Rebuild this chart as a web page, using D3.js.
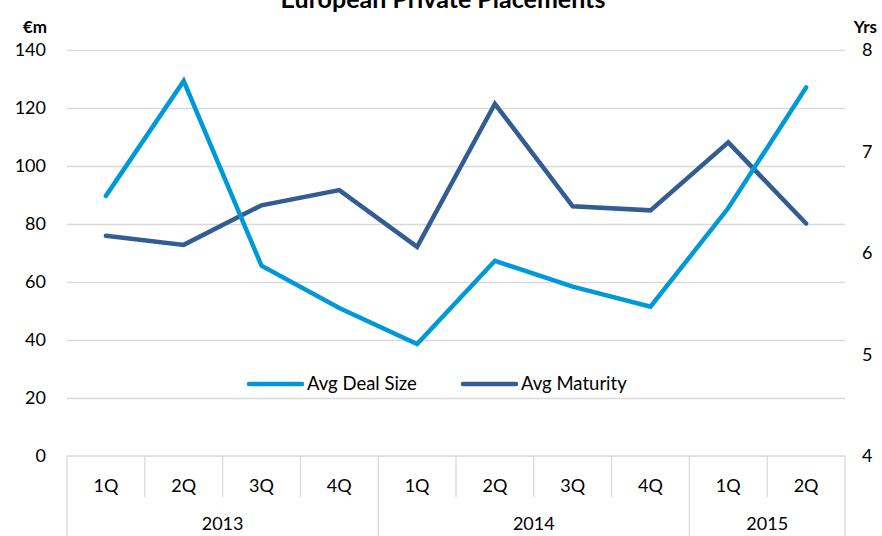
<!DOCTYPE html>
<html>
<head>
<meta charset="utf-8">
<script src="https://cdn.jsdelivr.net/npm/d3@7"></script>
<style>
  body { margin: 0; background: #fff; }
  svg { display: block; font-family: Lato, "Open Sans", sans-serif; }
</style>
</head>
<body>
<svg id="mainSvg" width="882" height="536"></svg>
<script>
// chart data
const quarters = ["1Q", "2Q", "3Q", "4Q", "1Q", "2Q", "3Q", "4Q", "1Q", "2Q"];
const years = ["2013", "2014", "2015"];
const yearSpans = [4, 4, 2];
const dealSize = [89.7, 129.3, 65.6, 51.0, 38.6, 67.3, 58.4, 51.5, 85.5, 127.1];
const maturity = [6.17, 6.08, 6.47, 6.62, 6.06, 7.47, 6.46, 6.42, 7.09, 6.29];
const leftTicks = [0, 20, 40, 60, 80, 100, 120, 140];
const rightTicks = [4, 5, 6, 7, 8];

const dealColor = '#0099d8';
const matColor = '#315d93';
const gridColor = '#d9d9d9';

let svg = d3.select('#mainSvg');
let plotL = 67, plotR = 845, plotT = 50, plotB = 456;

let x = d3.scaleBand().domain(d3.range(quarters.length)).range([plotL, plotR]).padding(0);
let yL = d3.scaleLinear().domain([0, 140]).range([plotB, plotT]);
let yR = d3.scaleLinear().domain([4, 8]).range([plotB, plotT]);

// gridlines
svg.append('g')
  .attr('transform', `translate(${plotL},0)`)
  .call(d3.axisLeft(yL).tickValues(leftTicks.slice(1)).tickSize(-(plotR - plotL)).tickFormat(''))
  .call(g => g.select('.domain').remove())
  .selectAll('line').attr('stroke', gridColor).attr('stroke-width', 1.3);

// left tick labels
svg.append('g')
  .attr('transform', `translate(${plotL},0)`)
  .call(d3.axisLeft(yL).tickValues(leftTicks).tickSize(0).tickPadding(21))
  .call(g => g.select('.domain').remove())
  .selectAll('text').attr('font-size', 18).attr('font-family', 'Lato').attr('fill', '#000');

// right tick labels
svg.append('g')
  .attr('transform', `translate(${plotR},0)`)
  .call(d3.axisRight(yR).tickValues(rightTicks).tickSize(0).tickPadding(17).tickFormat(d3.format('d')))
  .call(g => g.select('.domain').remove())
  .selectAll('text').attr('font-size', 18).attr('font-family', 'Lato').attr('fill', '#000');

// units
svg.append('text').text('€m').attr('x', 47).attr('y', 33).attr('text-anchor', 'end')
  .attr('font-weight', 'bold').attr('font-size', 17);
svg.append('text').text('Yrs').attr('x', 877).attr('y', 33).attr('text-anchor', 'end')
  .attr('font-weight', 'bold').attr('font-size', 17);

// title (cut off at the top edge, as in the original)
svg.append('text').text('European Private Placements')
  .attr('x', 443).attr('y', 8).attr('text-anchor', 'middle')
  .attr('font-weight', 'bold').attr('font-size', 25);

// category axis
let catAxis = svg.append('g');
catAxis.append('line')
  .attr('x1', plotL).attr('x2', plotR).attr('y1', plotB).attr('y2', plotB)
  .attr('stroke', gridColor).attr('stroke-width', 1.3);

let yearStarts = [0];
yearSpans.forEach((s, i) => yearStarts.push(yearStarts[i] + s));

d3.range(quarters.length + 1).forEach(i => {
  let xx = i < quarters.length ? x(i) : plotR;
  let isYear = yearStarts.includes(i);
  catAxis.append('line')
    .attr('x1', xx).attr('x2', xx)
    .attr('y1', plotB).attr('y2', isYear ? 536 : 497)
    .attr('stroke', gridColor).attr('stroke-width', 1.3);
});

catAxis.selectAll('.q').data(quarters).join('text')
  .attr('class', 'q')
  .attr('x', (d, i) => x(i) + x.bandwidth() / 2)
  .attr('y', 492)
  .attr('text-anchor', 'middle').attr('font-size', 18)
  .text(d => d);

catAxis.selectAll('.yr').data(years).join('text')
  .attr('class', 'yr')
  .attr('x', (d, i) => {
    let a = x(yearStarts[i]);
    let b = yearStarts[i + 1] < quarters.length ? x(yearStarts[i + 1]) : plotR;
    return (a + b) / 2;
  })
  .attr('y', 530)
  .attr('text-anchor', 'middle').attr('font-size', 18)
  .text(d => d);

// lines
let cx = i => x(i) + x.bandwidth() / 2;
let dealLine = d3.line().x((d, i) => cx(i)).y(d => yL(d));
let matLine = d3.line().x((d, i) => cx(i)).y(d => yR(d));

svg.append('path').datum(maturity)
  .attr('d', matLine).attr('fill', 'none')
  .attr('stroke', matColor).attr('stroke-width', 4.5).attr('stroke-linecap', 'round');
svg.append('path').datum(dealSize)
  .attr('d', dealLine).attr('fill', 'none')
  .attr('stroke', dealColor).attr('stroke-width', 4.5).attr('stroke-linecap', 'round');

// legend
let legend = [
  { name: 'Avg Deal Size', color: dealColor, x: 249 },
  { name: 'Avg Maturity', color: matColor, x: 463 }
];
let lg = svg.append('g');
legend.forEach(l => {
  lg.append('line').attr('x1', l.x).attr('x2', l.x + 53).attr('y1', 384).attr('y2', 384)
    .attr('stroke', l.color).attr('stroke-width', 4.5).attr('stroke-linecap', 'round');
  lg.append('text').text(l.name).attr('x', l.x + 58).attr('y', 390).attr('font-size', 18.5);
});
</script>
</body>
</html>
